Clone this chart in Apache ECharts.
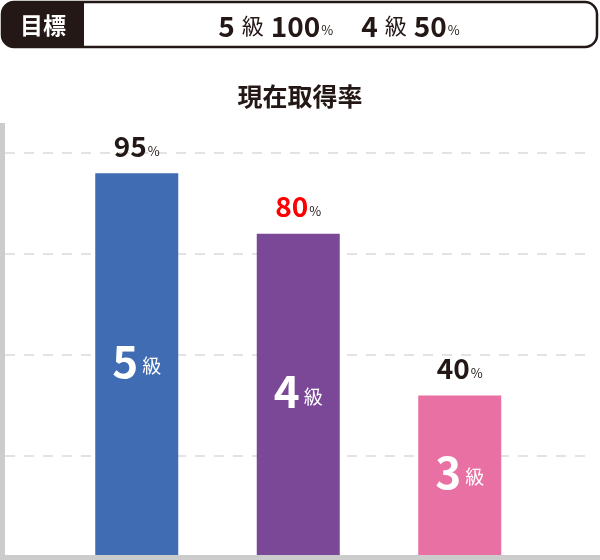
<!DOCTYPE html>
<html>
<head>
<meta charset="utf-8">
<script src="https://cdn.jsdelivr.net/npm/echarts@6/dist/echarts.min.js"></script>
<style>
html,body{margin:0;padding:0;background:#fff;}
#chart{width:600px;height:560px;}
</style>
</head>
<body>
<div id="chart"></div>
<script>
const categories = ['5級', '4級', '3級'];
const levels = ['5', '4', '3'];
const values = [95, 80, 40];
const barColors = ['#3F6CB3', '#7A4896', '#E970A2'];
const valueLabelColors = ['#231815', '#FF0000', '#231815'];
const yMin = 0, yMax = 100, yInterval = 25;
const goalLevels = ['5', '4'];
const goalValues = [100, 50];
const titleText = '現在取得率';
const goalTitle = '目標';

const FONT = '"Noto Sans CJK JP", "Noto Sans", sans-serif';
const DARK = '#231815';

const chart = echarts.init(document.getElementById('chart'), null, {renderer: 'canvas'});

let goalText = goalLevels.map((l, i) => `{n|${l}}{k|級}{n|${goalValues[i]}}{p|%}`).join('{sp| }');

const option = {
  animation: false,
  textStyle: {fontFamily: FONT},
  title: {
    text: titleText,
    left: 'center',
    top: 79,
    textStyle: {fontFamily: FONT, fontSize: 25, fontWeight: 'bold', color: DARK}
  },
  grid: [
    {left: 5, right: 15, top: 153, bottom: 3},
    {left: 56, right: 59.5, top: 153, bottom: 3}
  ],
  xAxis: [
    {gridIndex: 0, type: 'category', data: categories, show: false},
    {gridIndex: 1, type: 'category', data: categories, show: false}
  ],
  yAxis: [
    {gridIndex: 0, type: 'value', min: yMin, max: yMax, interval: yInterval,
      axisLine: {show: false}, axisTick: {show: false}, axisLabel: {show: false},
      splitLine: {show: true, lineStyle: {color: '#E3E3E3', width: 2, type: [10, 9]}}},
    {gridIndex: 1, type: 'value', min: yMin, max: yMax, interval: yInterval, show: false,
      splitLine: {show: false}}
  ],
  series: [
    {
      type: 'bar',
      xAxisIndex: 1, yAxisIndex: 1,
      barWidth: 83,
      data: values.map((v, i) => ({
        value: v,
        itemStyle: {color: barColors[i]},
        label: {formatter: `{n|${levels[i]}}{k| 級}`}
      })),
      label: {
        show: true,
        position: 'inside',
        offset: [0, -4],
        rich: {
          n: {fontFamily: FONT, fontSize: 44, fontWeight: 'bold', color: '#fff'},
          k: {fontFamily: FONT, fontSize: 19, color: '#fff', padding: [10, 0, 0, 0]}
        }
      },
      z: 2
    },
    {
      type: 'bar',
      xAxisIndex: 1, yAxisIndex: 1,
      barWidth: 83,
      barGap: '-100%',
      data: values.map((v, i) => ({
        value: v,
        label: {formatter: `{v${i}|${v}}{p|%}`}
      })),
      itemStyle: {color: 'rgba(0,0,0,0)'},
      label: {
        show: true,
        position: 'top',
        distance: 13,
        rich: Object.assign({
          p: {fontFamily: FONT, fontSize: 13, color: DARK, padding: [9, 0, 0, 1]}
        }, ...valueLabelColors.map((c, i) => ({
          ['v' + i]: {fontFamily: FONT, fontSize: 28, fontWeight: 'bold', color: c}
        })))
      },
      z: 3
    }
  ],
  graphic: [
    {type: 'rect', shape: {x: 2, y: 2, width: 595, height: 45, r: 12},
      style: {fill: '#fff', stroke: DARK, lineWidth: 2.5}, z: 10},
    {type: 'rect', shape: {x: 2, y: 2, width: 82, height: 45, r: [12, 0, 0, 12]},
      style: {fill: DARK}, z: 11},
    {type: 'text', x: 43, y: 25, z: 12,
      style: {text: goalTitle, fill: '#fff', font: 'bold 23px ' + FONT, align: 'center', verticalAlign: 'middle'}},
    {type: 'text', x: 339, y: 26, z: 12,
      style: {
        text: goalText, align: 'center', verticalAlign: 'middle',
        rich: {
          n: {fontFamily: FONT, fontSize: 28, fontWeight: 'bold', fill: DARK},
          k: {fontFamily: FONT, fontSize: 22, fill: DARK, padding: [0, 7, 0, 7]},
          p: {fontFamily: FONT, fontSize: 13, fill: DARK, padding: [9, 0, 0, 1]},
          sp: {fontFamily: FONT, fontSize: 14, width: 28}
        }
      }},
    {type: 'rect', shape: {x: 0, y: 123, width: 5, height: 437}, style: {fill: '#CCCCCC'}, z: 20},
    {type: 'rect', shape: {x: 0, y: 555, width: 600, height: 5}, style: {fill: '#CCCCCC'}, z: 20}
  ]
};
chart.setOption(option);
</script>
</body>
</html>
